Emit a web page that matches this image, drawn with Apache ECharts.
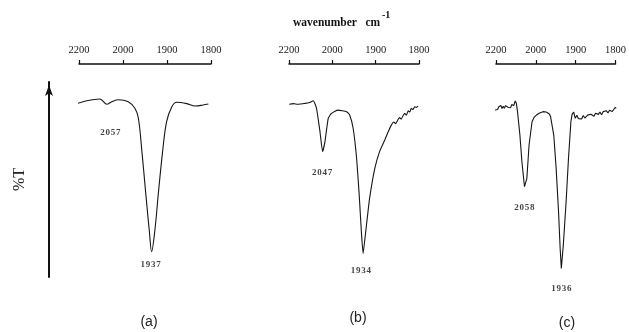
<!DOCTYPE html>
<html>
<head>
<meta charset="utf-8">
<script src="https://cdn.jsdelivr.net/npm/echarts@6/dist/echarts.min.js"></script>
<style>
html,body{margin:0;padding:0;background:#fff;}
#chart{width:629px;height:332px;}
</style>
</head>
<body>
<div id="chart"></div>
<script>
// ---- data ----
const tickLabels = ['2200', '2000', '1900', '1800'];
const panelNames = ['(a)', '(b)', '(c)'];
const axisTitle = 'wavenumber   cm';
const axisTitleSup = '-1';
const yName = '%T';

// wavenumber (cm-1) and %T for each spectrum
const wnA = [2205, 2165, 2105, 2074, 2051, 2021, 1988, 1973, 1965, 1957, 1948, 1940, 1935, 1927, 1920, 1910, 1901, 1889, 1878, 1855, 1836, 1818, 1806];
const tA  = [89.1, 90.4, 91.3, 88.6, 89.9, 90.9, 89.9, 86.5, 81.4, 64.3, 42.1, 23.2, 13.0, 25.1, 42.1, 64.3, 79.6, 87.3, 89.6, 88.9, 87.7, 88.2, 88.7];

const wnB = [2199, 2180, 2160, 2149, 2130, 2115, 2103, 2088, 2073, 2057, 2045, 2034, 2019, 2004, 1987, 1967, 1960, 1952, 1944, 1938, 1933, 1929, 1923, 1914, 1902, 1891, 1879, 1870, 1864, 1858, 1854, 1849, 1845, 1841, 1837, 1833, 1829, 1825, 1821, 1818, 1814, 1810, 1806, 1802];
const tB  = [88.6, 88.9, 88.6, 88.7, 89.0, 89.2, 89.6, 90.4, 86.5, 74.5, 64.3, 69.4, 81.4, 83.9, 85.6, 84.8, 83.1, 76.3, 60.9, 42.1, 23.2, 12.1, 23.2, 40.3, 55.7, 64.3, 70.3, 75.0, 77.9, 79.5, 78.6, 80.5, 81.8, 80.9, 82.7, 83.9, 83.0, 85.2, 84.6, 86.5, 85.8, 87.3, 87.0, 87.6];

const wnC = [2205, 2198, 2192, 2186, 2181, 2175, 2170, 2164, 2158, 2152, 2147, 2143, 2138, 2133, 2127, 2121, 2116, 2110, 2104, 2098, 2092, 2080, 2070, 2057, 2045, 2034, 2019, 2008, 1998, 1992, 1987, 1982, 1978, 1974, 1970, 1966, 1963, 1955, 1949, 1943, 1939, 1936, 1931, 1924, 1918, 1912, 1909, 1905, 1901, 1897, 1893, 1889, 1885, 1881, 1877, 1874, 1870, 1866, 1862, 1858, 1854, 1850, 1846, 1843, 1839, 1835, 1831, 1827, 1823, 1819, 1815, 1812, 1808, 1804, 1801, 1798];
const tC  = [85.6, 86.6, 85.9, 87.3, 86.8, 87.9, 86.4, 87.6, 86.5, 87.9, 88.8, 88.2, 86.9, 87.7, 86.8, 88.4, 89.1, 88.0, 90.3, 89.2, 84.8, 72.8, 59.2, 46.3, 50.6, 67.7, 79.6, 82.0, 83.1, 84.0, 84.6, 84.8, 85.3, 84.6, 84.5, 83.6, 82.2, 72.8, 55.7, 33.5, 14.7, 4.4, 16.4, 38.6, 60.9, 79.6, 83.4, 84.6, 81.4, 82.9, 81.2, 82.2, 81.0, 82.8, 81.5, 81.7, 83.0, 82.0, 83.5, 83.1, 82.4, 84.0, 83.0, 83.4, 84.6, 83.2, 84.8, 84.0, 85.3, 84.1, 85.5, 86.5, 84.9, 84.8, 86.9, 86.5];

const peaksA = [2057, 1937];
const peaksB = [2047, 1934];
const peaksC = [2058, 1936];

// ---- helpers ----
// the spectrometer chart uses a 2x compressed scale above 2000 cm-1
function wnToU(wn) { return wn >= 2000 ? (2200 - wn) / 200 : 1 + (2000 - wn) / 100; }
function toPts(wn, t) { return wn.map((w, i) => [wnToU(w), t[i]]); }
function peakT(wn, t, p) {
  let m = Infinity;
  wn.forEach((w, i) => { if (Math.abs(w - p) <= 20 && t[i] < m) m = t[i]; });
  return m;
}

const spectra = [[wnA, tA, peaksA], [wnB, tB, peaksB], [wnC, tC, peaksC]];
const grids = [
  { left: 79, width: 132, top: 82, height: 195 },
  { left: 289, width: 130, top: 82, height: 195 },
  { left: 496, width: 129, top: 82, height: 195 }
];
const labelDrops = [[28, 13], [21, 17], [21, 20]];
const smoothing = [0.35, 0.15, 0];

const chart = echarts.init(document.getElementById('chart'), null, { renderer: 'canvas' });

const xAxes = grids.map((g, i) => ({
  type: 'value', gridIndex: i, min: 0, max: 3, interval: 1,
  position: 'top', offset: 18,
  axisLine: { show: true, onZero: false, lineStyle: { color: '#111', width: 1.5 } },
  axisTick: { show: true, length: 4, lineStyle: { color: '#111', width: 1.2 } },
  axisLabel: {
    margin: 8, fontSize: 10.5, fontFamily: 'Liberation Serif', color: '#1a1a1a',
    formatter: v => tickLabels[Math.round(v)] || ''
  },
  splitLine: { show: false }
}));

const yAxes = grids.map((g, i) => i === 0 ? ({
  type: 'value', gridIndex: 0, min: 0, max: 100, offset: 30, position: 'left',
  axisLine: { show: true, onZero: false, symbol: ['none', 'arrow'], symbolSize: [6, 11], symbolOffset: [0, -3],
              lineStyle: { color: '#111', width: 2 } },
  axisTick: { show: false }, axisLabel: { show: false }, splitLine: { show: false },
  name: yName, nameLocation: 'middle', nameGap: 21, nameRotate: 90,
  nameTextStyle: { fontSize: 16, fontFamily: 'Liberation Serif', color: '#222' }
}) : ({
  type: 'value', gridIndex: i, min: 0, max: 100, show: false
}));

const series = [];
spectra.forEach(([wn, t, peaks], i) => {
  series.push({
    type: 'line', xAxisIndex: i, yAxisIndex: i, data: toPts(wn, t),
    showSymbol: false, symbol: 'none', smooth: smoothing[i], clip: false,
    lineStyle: { color: '#161616', width: 1.1 }, silent: true, animation: false
  });
  series.push({
    type: 'scatter', xAxisIndex: i, yAxisIndex: i, symbolSize: 0, animation: false,
    data: peaks.map((p, k) => ({
      value: [wnToU(p), peakT(wn, t, p)],
      label: { offset: [0, labelDrops[i][k]] }
    })),
    label: {
      show: true, position: 'inside', color: '#111',
      fontSize: 9, fontWeight: 'bold', fontFamily: 'Liberation Serif',
      formatter: (prm) => String(peaks[prm.dataIndex]).split('').join('\u200A')
    }
  });
});

const letterPos = [[149, 322], [358, 318], [567, 323]];
const graphic = [
  { type: 'text', x: 293, y: 23, style: { text: axisTitle, font: 'bold 11.5px "Liberation Serif"', fill: '#111', textAlign: 'left', textVerticalAlign: 'middle' } },
  { type: 'text', x: 382, y: 15, style: { text: axisTitleSup, font: 'bold 10px "Liberation Serif"', fill: '#111', textAlign: 'left', textVerticalAlign: 'middle' } }
].concat(panelNames.map((n, i) => ({
  type: 'text', x: letterPos[i][0], y: letterPos[i][1],
  style: { text: n, font: '14px "Liberation Sans"', fill: '#222', textAlign: 'center', textVerticalAlign: 'middle' }
})));

chart.setOption({
  backgroundColor: '#fff',
  animation: false,
  grid: grids,
  xAxis: xAxes,
  yAxis: yAxes,
  series: series,
  graphic: graphic
});
</script>
</body>
</html>
